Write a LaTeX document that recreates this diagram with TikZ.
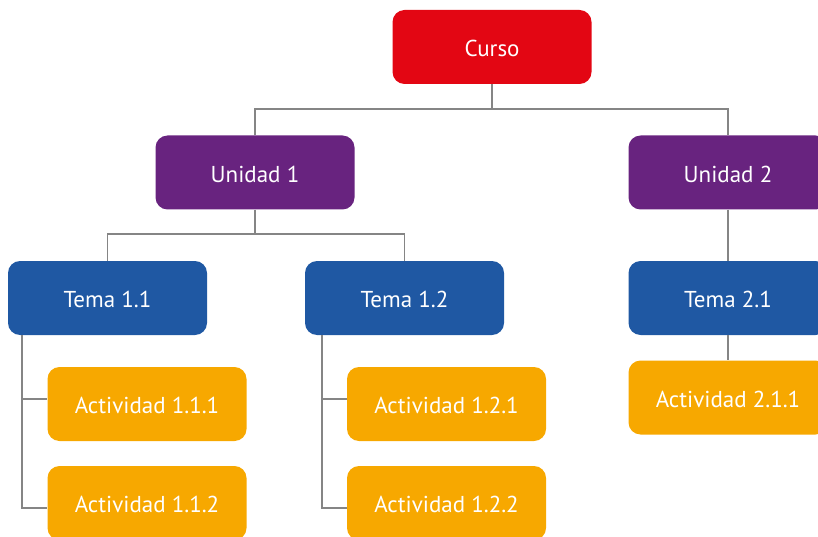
\documentclass[tikz,border=0pt]{standalone}
\usepackage{fontspec}
\setmainfont{PT Sans}
\definecolor{cursored}{HTML}{E30613}
\definecolor{unidadpurple}{HTML}{68237F}
\definecolor{temablue}{HTML}{1F58A3}
\definecolor{actorange}{HTML}{F7A800}
\definecolor{linkgray}{HTML}{858585}
\tikzset{
  box/.style={rounded corners=12pt, minimum width=199pt, minimum height=74pt,
    inner sep=0pt, text height=19.5pt, text depth=0pt, text=white,
    font=\fontsize{23}{26}\selectfont},
  curso/.style={box, fill=cursored},
  unidad/.style={box, fill=unidadpurple},
  tema/.style={box, fill=temablue},
  actividad/.style={box, fill=actorange},
  link/.style={draw=linkgray, line width=1.7pt}
}
\begin{document}
\begin{tikzpicture}[x=1pt, y=-1pt]
  \useasboundingbox (0,0) rectangle (818,537);
  \clip (0,0) rectangle (818,537);

  % boxes
  \node[curso]     (curso) at (492,47)    {Curso};
  \node[unidad]    (u1)    at (255,172.5) {Unidad 1};
  \node[unidad]    (u2)    at (728,172.5) {Unidad 2};
  \node[tema]      (t11)   at (107.5,298) {Tema 1.1};
  \node[tema]      (t12)   at (404.5,298) {Tema 1.2};
  \node[tema]      (t21)   at (728,298)   {Tema 2.1};
  \node[actividad] (a111)  at (147,404)   {Actividad 1.1.1};
  \node[actividad] (a112)  at (147,503)   {Actividad 1.1.2};
  \node[actividad] (a121)  at (446.5,404) {Actividad 1.2.1};
  \node[actividad] (a122)  at (446.5,503) {Actividad 1.2.2};
  \node[actividad] (a211)  at (728,397.5) {Actividad 2.1.1};

  % bus lines
  \coordinate (bus1) at (0,109);
  \coordinate (bus2) at (0,234);

  % Curso -> Unidades
  \draw[link] (curso.south) -- (curso.south |- bus1);
  \draw[link] (u1.north) -- (u1.north |- bus1) -- (u2.north |- bus1) -- (u2.north);

  % Unidad 1 -> Temas
  \draw[link] (u1.south) -- (u1.south |- bus2);
  \draw[link] (t11.north) -- (t11.north |- bus2) -- (t12.north |- bus2) -- (t12.north);

  % Unidad 2 -> Tema 2.1 -> Actividad 2.1.1
  \draw[link] (u2.south) -- (t21.north);
  \draw[link] (t21.south) -- (a211.north);

  % Tema 1.1 -> Actividades
  \draw[link] ([xshift=14pt]t11.south west) |- ([yshift=-5pt]a112.west);
  \draw[link] ([xshift=14pt]t11.south west |- a111.west) ++(0,-5) -- ([yshift=5pt]a111.west);

  % Tema 1.2 -> Actividades
  \draw[link] ([xshift=17pt]t12.south west) |- ([yshift=-5pt]a122.west);
  \draw[link] ([xshift=17pt]t12.south west |- a121.west) ++(0,-5) -- ([yshift=5pt]a121.west);
\end{tikzpicture}
\end{document}
